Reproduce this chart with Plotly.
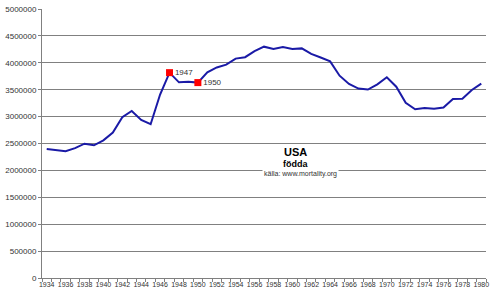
import plotly.graph_objects as go

years = list(range(1934, 1981))
births = [2396000, 2377000, 2355000, 2413000, 2496000, 2466000, 2559000, 2703000,
          2989000, 3104000, 2939000, 2858000, 3411000, 3817000, 3637000, 3649000,
          3632000, 3823000, 3913000, 3965000, 4078000, 4104000, 4218000, 4300000,
          4255000, 4295000, 4258000, 4268000, 4167000, 4098000, 4027000, 3760000,
          3606000, 3521000, 3502000, 3600000, 3731000, 3556000, 3258000, 3137000,
          3160000, 3144000, 3168000, 3327000, 3333000, 3494000, 3612000]
marked_years = [1947, 1950]
marked_vals = [births[years.index(y)] for y in marked_years]
tick_years = list(range(1934, 1981, 2))
y_ticks = list(range(0, 5000001, 500000))

fig = go.Figure()
fig.add_trace(go.Scatter(x=years, y=births, mode="lines",
                         line=dict(color="#1a1aa6", width=2), hoverinfo="x+y"))
fig.add_trace(go.Scatter(x=marked_years, y=marked_vals, mode="markers+text",
                         marker=dict(symbol="square", size=7, color="#ff0000"),
                         text=[str(y) for y in marked_years],
                         textposition="middle right",
                         textfont=dict(family="Liberation Sans, Arial", size=8, color="#333333")))

fig.update_layout(
    width=494, height=295,
    margin=dict(l=35, r=7, t=5, b=17),
    paper_bgcolor="white", plot_bgcolor="white",
    showlegend=False,
    font=dict(family="Liberation Sans, Arial", color="#333333"),
)
fig.update_xaxes(range=[1933.5, 1980.5], tickvals=tick_years,
                 ticktext=[str(t) for t in tick_years],
                 tickfont=dict(size=7, color="#333333"),
                 ticks="", showgrid=False, zeroline=False,
                 showline=True, linecolor="#808080", linewidth=1,
                 minor=dict(ticks="outside", tick0=1933.5, dtick=1, ticklen=3,
                            tickcolor="#808080", showgrid=False))
fig.update_yaxes(range=[0, 5000000], tickvals=y_ticks,
                 ticktext=[str(v) for v in y_ticks],
                 tickfont=dict(size=8, color="#333333"),
                 ticks="outside", ticklen=3, tickcolor="#808080",
                 showgrid=True, gridcolor="#808080", gridwidth=1,
                 zeroline=False, showline=True, linecolor="#808080", linewidth=1)

fig.add_annotation(x=1960.3, y=2340000, text="<b>USA</b>", showarrow=False,
                   font=dict(size=11, color="#000000"))
fig.add_annotation(x=1960.3, y=2110000, text="<b>födda</b>", showarrow=False,
                   font=dict(size=9, color="#000000"))
fig.add_annotation(x=1960.9, y=1935000, text="källa: www.mortality.org", showarrow=False,
                   font=dict(size=7, color="#333333"), bgcolor="white")

fig.write_html("out.html")
